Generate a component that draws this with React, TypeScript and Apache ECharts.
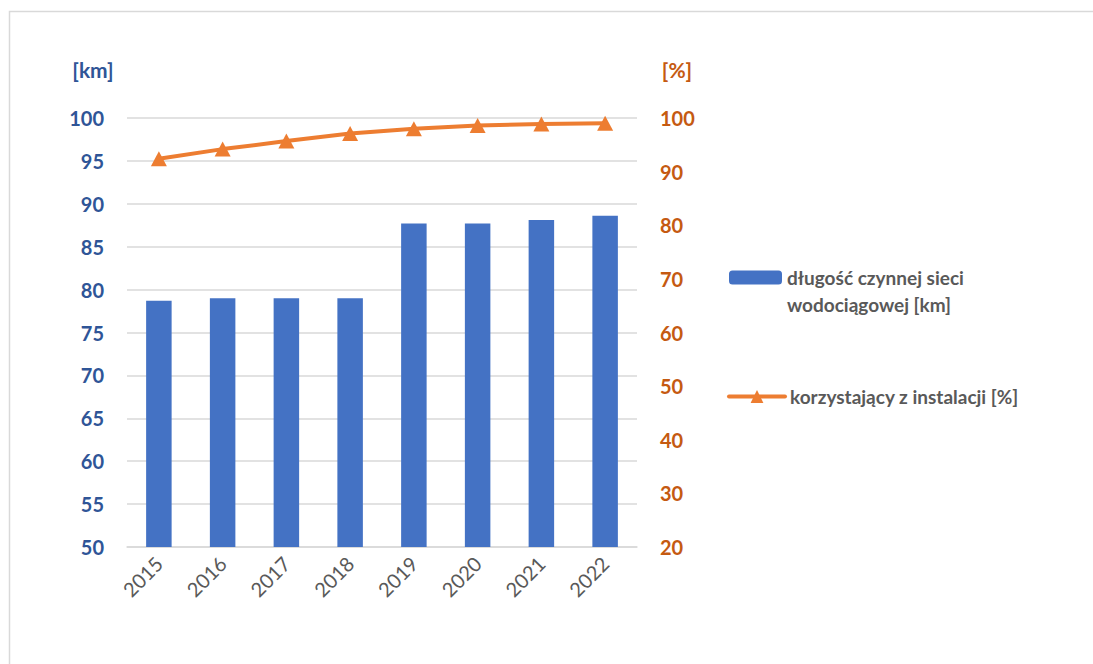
import React, { useEffect, useRef } from "react";
import * as echarts from "echarts";

const years = ["2015", "2016", "2017", "2018", "2019", "2020", "2021", "2022"];
const networkKm = [78.7, 79.0, 79.0, 79.0, 87.7, 87.7, 88.1, 88.6];
const usersPct = [92.4, 94.2, 95.7, 97.1, 98.0, 98.6, 98.9, 99.0];
const barName = "długość czynnej sieci\nwodociągowej [km]";
const lineName = "korzystający z instalacji [%]";

const FONT = "Lato, 'Open Sans', sans-serif";

export default function App() {
  const ref = useRef<HTMLDivElement>(null);
  useEffect(() => {
    document.body.style.margin = "0";
    const chart = echarts.init(ref.current!, null, { renderer: "svg" });
    chart.setOption({
      animation: false,
      textStyle: { fontFamily: FONT },
      graphic: [
        {
          type: "polyline",
          shape: { points: [[9.5, 700], [9.5, 11.5], [1100, 11.5]] },
          style: { fill: "none", stroke: "#D9D9D9", lineWidth: 1.5 },
          silent: true,
        },
        {
          type: "text",
          x: 93,
          y: 69,
          style: {
            text: "[km]",
            fill: "#2F5597",
            font: `bold 21px ${FONT}`,
            textAlign: "center",
            textVerticalAlign: "middle",
          },
        },
        {
          type: "text",
          x: 677,
          y: 69,
          style: {
            text: "[%]",
            fill: "#C55A11",
            font: `bold 21px ${FONT}`,
            textAlign: "center",
            textVerticalAlign: "middle",
          },
        },
      ],
      legend: [
        {
          data: [barName],
          orient: "vertical",
          left: 724,
          top: 232,
          itemWidth: 53,
          itemHeight: 14,
          itemGap: 0,
          formatter: (n: string) => "\n" + n,
          textStyle: {
            fontSize: 19,
            fontWeight: "bold",
            color: "#595959",
            lineHeight: 27,
            fontFamily: FONT,
          },
        },
        {
          data: [lineName],
          orient: "vertical",
          left: 722,
          top: 382,
          itemWidth: 56,
          itemHeight: 16,
          lineStyle: { width: 4, cap: "round" },
          textStyle: {
            fontSize: 19,
            fontWeight: "bold",
            color: "#595959",
            fontFamily: FONT,
          },
        },
      ],
      grid: { left: 127, right: 456, top: 118, bottom: 117 },
      xAxis: {
        type: "category",
        data: years,
        axisLine: { lineStyle: { color: "#D9D9D9", width: 1.5 } },
        axisTick: { show: false },
        axisLabel: {
          rotate: 45,
          color: "#595959",
          fontSize: 20,
          margin: 13,
          fontFamily: FONT,
        },
      },
      yAxis: [
        {
          type: "value",
          min: 50,
          max: 100,
          interval: 5,
          axisLine: { show: false },
          axisTick: { show: false },
          splitLine: { lineStyle: { color: "#D9D9D9", width: 1.5 } },
          axisLabel: {
            color: "#2F5597",
            fontSize: 20,
            fontWeight: "bold",
            margin: 23,
            fontFamily: FONT,
          },
        },
        {
          type: "value",
          min: 20,
          max: 100,
          interval: 10,
          position: "right",
          axisLine: { show: false },
          axisTick: { show: false },
          splitLine: { show: false },
          axisLabel: {
            color: "#C55A11",
            fontSize: 20,
            fontWeight: "bold",
            margin: 23,
            fontFamily: FONT,
          },
        },
      ],
      series: [
        {
          name: barName,
          type: "bar",
          data: networkKm,
          yAxisIndex: 0,
          barWidth: "40%",
          itemStyle: { color: "#4472C4" },
        },
        {
          name: lineName,
          type: "line",
          data: usersPct,
          yAxisIndex: 1,
          symbol: "triangle",
          symbolSize: [16, 15],
          lineStyle: { color: "#ED7D31", width: 4 },
          itemStyle: { color: "#ED7D31" },
        },
      ],
    });
    return () => chart.dispose();
  }, []);
  return <div ref={ref} style={{ width: 1093, height: 664 }} />;
}
